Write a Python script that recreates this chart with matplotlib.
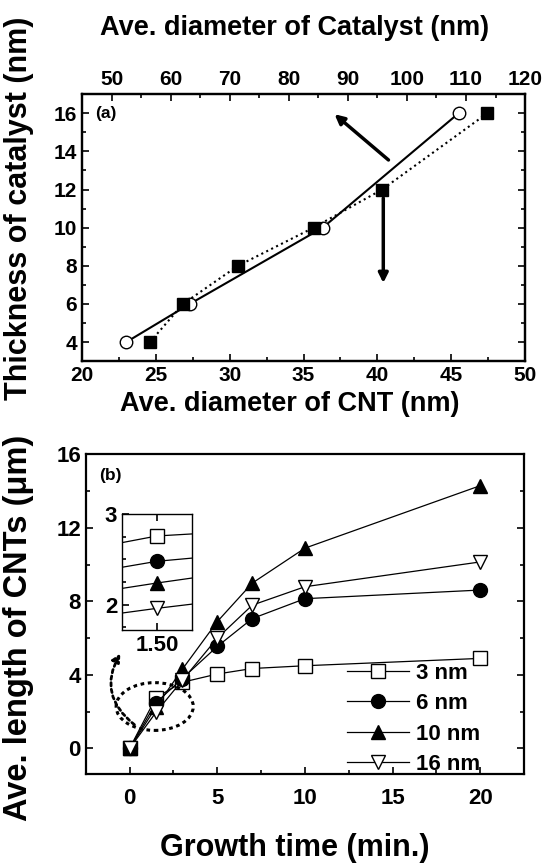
import matplotlib
matplotlib.use("Agg")
import matplotlib.pyplot as plt
from matplotlib.patches import Ellipse, FancyArrowPatch
from matplotlib.ticker import MultipleLocator

plt.rcParams['font.family'] = ['Liberation Sans', 'DejaVu Sans']
plt.rcParams['font.weight'] = 'bold'

# ---- Panel (a) data ----
thickness_cnt = [4, 6, 10, 16]
cnt_diameter = [23.0, 27.3, 36.3, 45.5]
thickness_cat = [4, 6, 8, 10, 12, 16]
cat_diameter = [56.5, 62.1, 71.4, 84.2, 95.8, 113.6]

# ---- Panel (b) data ----
growth_time = [0, 1.5, 3, 5, 7, 10, 20]
series_labels = ['3 nm', '6 nm', '10 nm', '16 nm']
len_3nm = [0, 2.76, 3.6, 4.05, 4.35, 4.5, 4.9]
len_6nm = [0, 2.48, 3.8, 5.55, 7.07, 8.15, 8.62]
len_10nm = [0, 2.24, 4.3, 6.9, 9.0, 10.9, 14.3]
len_16nm = [0, 1.96, 3.7, 6.0, 7.8, 8.8, 10.15]

fig = plt.figure(figsize=(5.43, 8.64), dpi=100)

def style_ticks(ax, labelsize):
    ax.tick_params(which='both', direction='in', width=1.2, labelsize=labelsize)
    ax.tick_params(which='major', length=5)
    ax.tick_params(which='minor', length=3)
    for lab in ax.get_xticklabels() + ax.get_yticklabels():
        lab.set_fontweight('bold')
    for s in ax.spines.values():
        s.set_linewidth(1.6)

# ================= Panel (a) =================
axa = fig.add_axes([0.151, 0.582, 0.816, 0.309])
axa.plot(cnt_diameter, thickness_cnt, '-', color='black', lw=1.5,
         marker='o', ms=9, mfc='white', mec='black', mew=1.0, zorder=3)
axa.set_xlim(20, 50)
axa.set_ylim(3, 17)
axa.xaxis.set_major_locator(MultipleLocator(5))
axa.xaxis.set_minor_locator(MultipleLocator(2.5))
axa.yaxis.set_major_locator(MultipleLocator(2))
axa.yaxis.set_minor_locator(MultipleLocator(1))
axa.tick_params(which='both', right=True, top=False)
style_ticks(axa, 15)
axa.set_xlabel('Ave. diameter of CNT (nm)', fontsize=19.5, fontweight='bold')
axa.xaxis.set_label_coords(0.47, -0.11)
axa.set_ylabel('Thickness of catalyst (nm)', fontsize=22, fontweight='bold')
axa.yaxis.set_label_coords(-0.108, 0.573)
axa.text(0.03, 0.91, '(a)', transform=axa.transAxes, fontsize=12.5, fontweight='bold')

axt = axa.twiny()
axt.plot(cat_diameter, thickness_cat, ':', color='black', lw=1.5,
         marker='s', ms=9, mfc='black', mec='black', zorder=3)
axt.set_xlim(45, 120)
axt.xaxis.set_major_locator(MultipleLocator(10))
axt.xaxis.set_minor_locator(MultipleLocator(5))
axt.tick_params(which='both', top=True, bottom=False)
style_ticks(axt, 15)
axt.set_xlabel('Ave. diameter of Catalyst (nm)', fontsize=19.5, fontweight='bold')
axt.xaxis.set_label_coords(0.48, 1.22)

# arrows
axa.annotate('', xy=(37.1, 15.95), xytext=(40.75, 13.55),
             arrowprops=dict(arrowstyle='-|>', color='black', lw=2.5,
                             mutation_scale=14, shrinkA=0, shrinkB=0))
axa.annotate('', xy=(40.4, 7.1), xytext=(40.4, 11.55),
             arrowprops=dict(arrowstyle='-|>', color='black', lw=2.5,
                             mutation_scale=14, shrinkA=0, shrinkB=0))

# ================= Panel (b) =================
axb = fig.add_axes([0.158, 0.104, 0.807, 0.370])
series = [len_3nm, len_6nm, len_10nm, len_16nm]
markers = ['s', 'o', '^', 'v']
faces = ['white', 'black', 'black', 'white']
for ys, lab, m, fc in zip(series, series_labels, markers, faces):
    axb.plot(growth_time, ys, '-', color='black', lw=0.9, marker=m, ms=10,
             mfc=fc, mec='black', mew=1.0, label=lab, zorder=3)
axb.set_xlim(-2.5, 22.5)
axb.set_ylim(-1.4, 16)
axb.xaxis.set_major_locator(MultipleLocator(5))
axb.xaxis.set_minor_locator(MultipleLocator(2.5))
axb.yaxis.set_major_locator(MultipleLocator(4))
axb.yaxis.set_minor_locator(MultipleLocator(2))
axb.tick_params(which='both', right=True, top=False)
style_ticks(axb, 16)
axb.tick_params(axis='x', pad=10)
axb.set_xlabel('Growth time (min.)', fontsize=22, fontweight='bold')
axb.xaxis.set_label_coords(0.477, -0.183)
axb.set_ylabel('Ave. length of CNTs (μm)', fontsize=23.5, fontweight='bold')
axb.yaxis.set_label_coords(-0.119, 0.456)
axb.text(0.03, 0.92, '(b)', transform=axb.transAxes, fontsize=12.5, fontweight='bold')

leg = axb.legend(loc='lower right', frameon=False, fontsize=16, handlelength=2.8,
                 handletextpad=0.3, labelspacing=0.42, borderaxespad=0.0,
                 bbox_to_anchor=(0.92, -0.03))
for t in leg.get_texts():
    t.set_fontweight('bold')

# dotted ellipse and arrow
ell = Ellipse((1.43, 2.28), 4.4, 2.6, fill=False, ls=(0, (1.2, 1.2)), lw=2.2,
              color='black', zorder=4)
axb.add_patch(ell)
arr = FancyArrowPatch((0.4, 1.2), (-0.45, 5.3), connectionstyle='arc3,rad=-0.45',
                      arrowstyle='-|>', mutation_scale=12, lw=2.0,
                      ls=(0, (1.2, 1.2)), color='black', zorder=4)
axb.add_patch(arr)

# inset
axi = fig.add_axes([0.2247, 0.2708, 0.129, 0.134])
for ys, m, fc in zip(series, markers, faces):
    axi.plot(growth_time, ys, '-', color='black', lw=0.9, marker=m, ms=10,
             mfc=fc, mec='black', mew=1.0)
axi.set_xlim(1.46, 1.54)
axi.set_ylim(1.72, 3.0)
axi.set_xticks([1.5])
axi.set_xticklabels(['1.50'])
axi.set_yticks([2, 3])
axi.yaxis.set_minor_locator(MultipleLocator(0.25))
axi.tick_params(which='both', top=True, right=False, direction='in')
style_ticks(axi, 16)
for s in axi.spines.values():
    s.set_linewidth(1.0)

fig.savefig('out.png', dpi=100)
